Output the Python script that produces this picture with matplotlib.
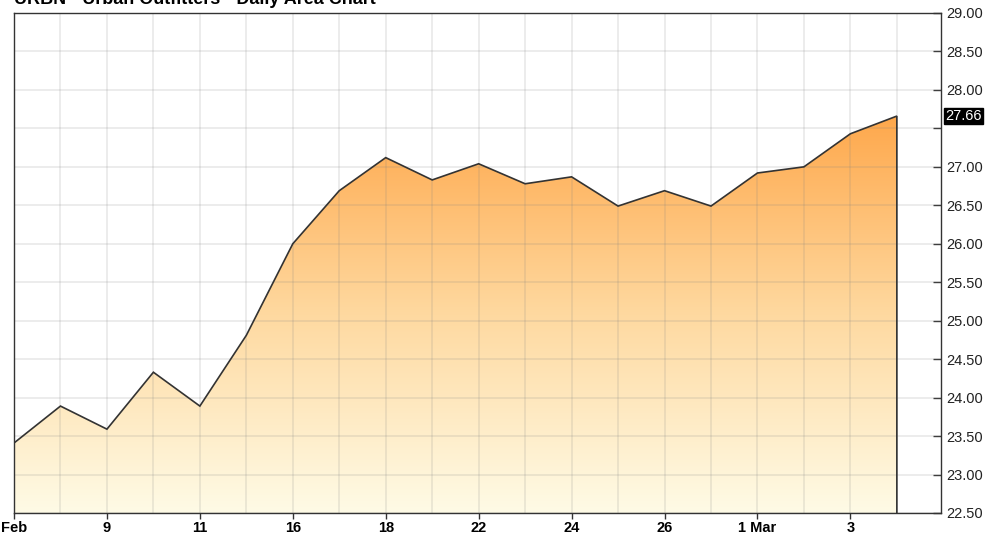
import numpy as np
import matplotlib
matplotlib.use("Agg")
import matplotlib.pyplot as plt
from matplotlib.colors import LinearSegmentedColormap
from matplotlib.patches import Polygon

# ---- data ----
prices = [23.41, 23.89, 23.59, 24.33, 23.89, 24.81, 26.00, 26.69, 27.12, 26.83,
          27.04, 26.78, 26.87, 26.49, 26.69, 26.49, 26.92, 27.00, 27.43, 27.66]
tick_idx = [0, 2, 4, 6, 8, 10, 12, 14, 16, 18]
tick_labels = ["Feb", "9", "11", "16", "18", "22", "24", "26", "1 Mar", "3"]
y_ticks = [22.5, 23.0, 23.5, 24.0, 24.5, 25.0, 25.5, 26.0, 26.5, 27.0, 27.5, 28.0, 28.5, 29.0]
last_label = "27.66"
title = "URBN - Urban Outfitters - Daily Area Chart"

plt.rcParams['font.family'] = ['Liberation Sans', 'DejaVu Sans']

W, H = 985, 535
fig = plt.figure(figsize=(W / 100, H / 100), dpi=100)
L, R, T, B = 14, 941, 13, 513
ax = fig.add_axes([L / W, 1 - B / H, (R - L) / W, (B - T) / H])

x = np.arange(len(prices))
ymin, ymax = 22.5, 29.0
ax.set_xlim(0, 19.95)
ax.set_ylim(ymin, ymax)

# gradient fill
cmap = LinearSegmentedColormap.from_list("g", ["#fffbe6", "#fed9a0", "#ffa84c"])
grad = np.linspace(0, 1, 256).reshape(-1, 1)
top = max(prices)
im = ax.imshow(grad, aspect="auto", cmap=cmap, origin="lower",
               extent=[0, len(prices) - 1, ymin, top], zorder=1)
verts = [(0, ymin)] + list(zip(x, prices)) + [(x[-1], ymin)]
poly = Polygon(verts, closed=True, facecolor="none", edgecolor="none")
ax.add_patch(poly)
im.set_clip_path(poly)

# grid
for xi in x:
    ax.axvline(xi, color="#808080", alpha=0.16, lw=1.3, zorder=2)
for yv in y_ticks:
    ax.axhline(yv, color="#808080", alpha=0.16, lw=1.3, zorder=2)

# line
ax.plot(list(x) + [x[-1]], prices + [ymin], color="#333333", lw=1.2, zorder=3,
        solid_joinstyle="miter")

for s in ax.spines.values():
    s.set_color("#333333")
    s.set_linewidth(1.0)
    s.set_zorder(4)

# x ticks
ax.set_xticks(tick_idx)
ax.set_xticklabels(tick_labels, fontsize=10.5, fontweight="bold")
ax.tick_params(axis="x", direction="out", length=4, width=1, color="#333333", pad=2)

# y ticks on right
ax.yaxis.tick_right()
ax.set_yticks(y_ticks)
labels = [("" if abs(v - 27.5) < 1e-6 else f"{v:.2f}") for v in y_ticks]
ax.set_yticklabels(labels, fontsize=10.5, color="#222222")
ax.tick_params(axis="y", direction="in", length=6, width=1, color="#333333", pad=3.5)
ax.tick_params(axis="y", which="both", right=True, left=False)

# last price label
ax.text(1.005, (prices[-1] - ymin) / (ymax - ymin), last_label, transform=ax.transAxes,
        fontsize=10.5, color="white", va="center", ha="left",
        bbox=dict(boxstyle="square,pad=0.08", fc="black", ec="black"))

fig.text(L / W, 1 - 4 / H, title, fontsize=13, fontweight="bold", va="baseline", ha="left")

fig.savefig("out.png", dpi=100)
